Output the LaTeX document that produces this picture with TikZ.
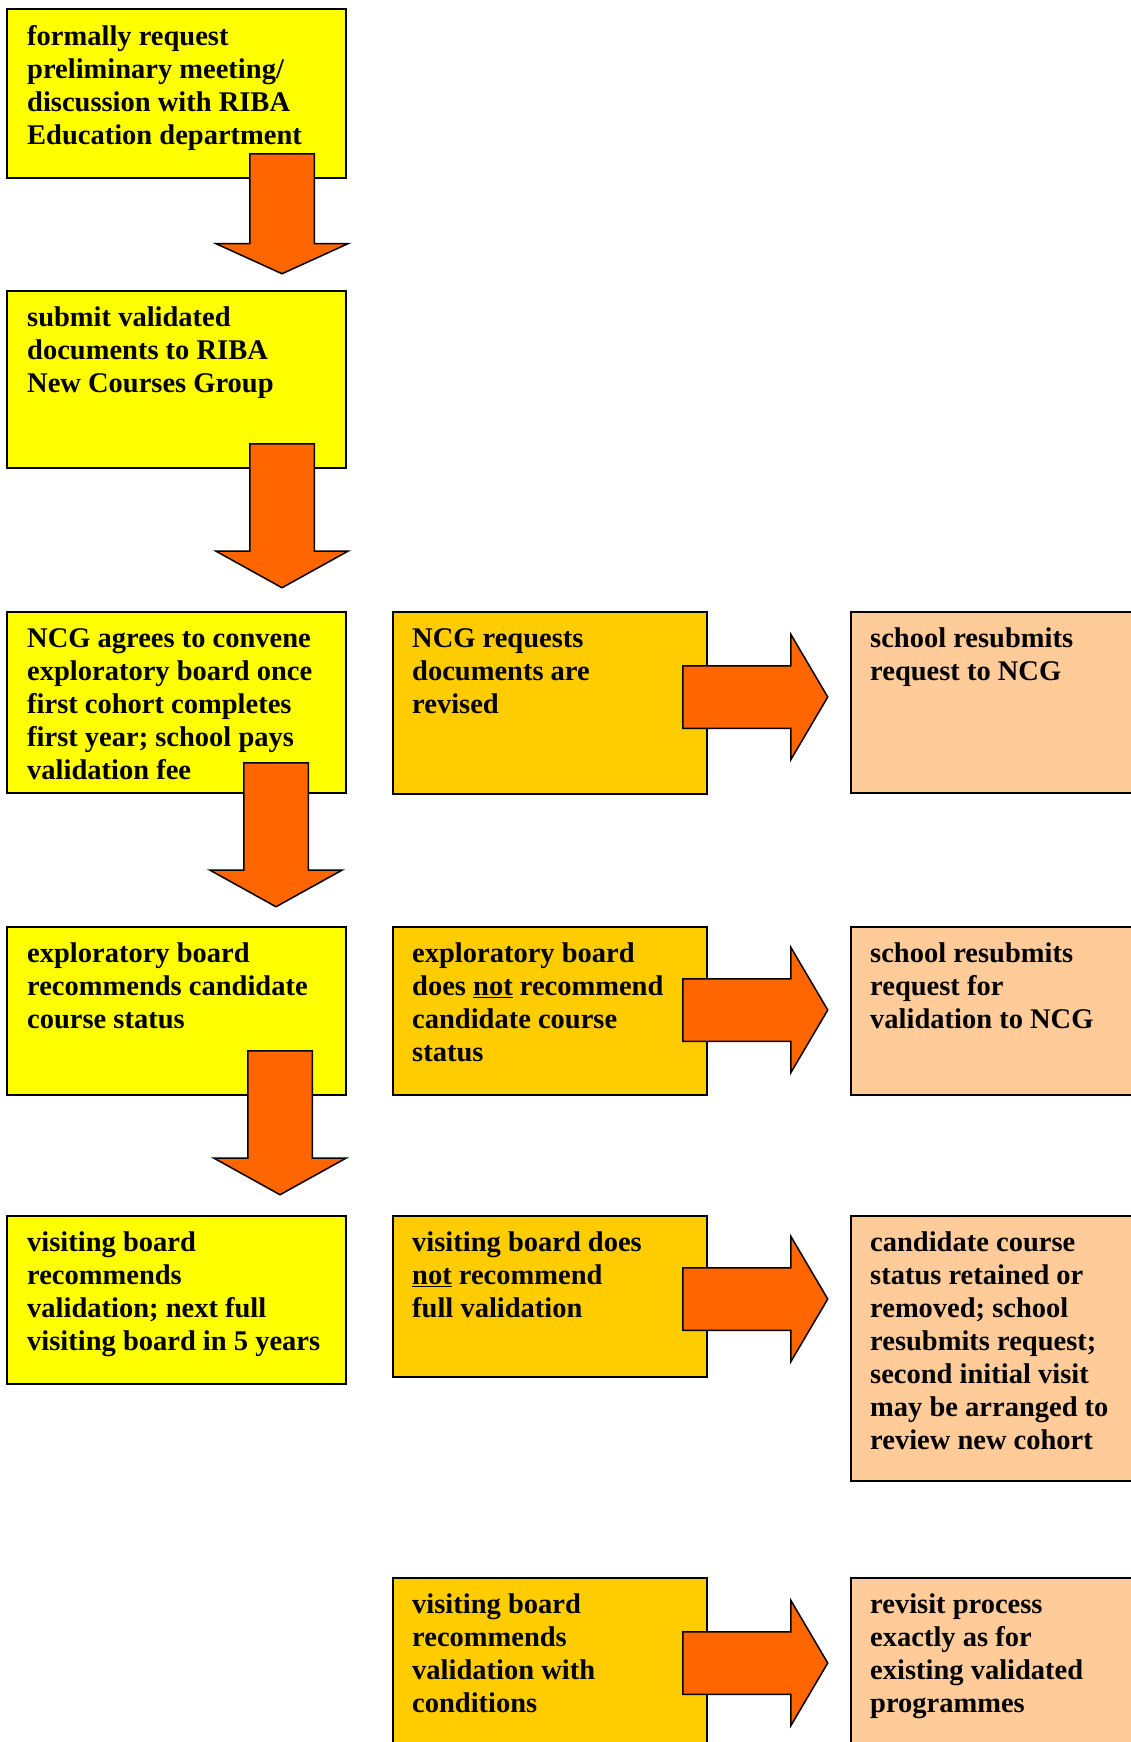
\documentclass[tikz,border=0pt]{standalone}
\usepackage{fontspec}
\setmainfont{Liberation Serif}
\usetikzlibrary{positioning}
\usetikzlibrary{shapes.arrows}
\definecolor{boxyellow}{HTML}{FFFF00}
\definecolor{boxgold}{HTML}{FFCC00}
\definecolor{boxpeach}{HTML}{FFCC99}
\definecolor{arroworange}{HTML}{FF6600}
\tikzset{x=1pt, y=-1pt, % one unit is one pixel of the page, y runs down
  every node/.style={align=left,
    font=\bfseries\fontsize{28.5}{33}\selectfont},
  box/.style={ % the coloured steps
    draw, line width=2pt, inner sep=0pt, anchor=north west},
  leftbox/.style={box, fill=boxyellow, minimum width=339pt},
  midbox/.style={box, fill=boxgold, minimum width=314pt},
  rightbox/.style={box, fill=boxpeach, minimum width=300pt},
  boxtext/.style={anchor=north west, inner sep=0pt,
    execute at begin node={\strut}},
  downarrow/.style={ % the big block arrows
    single arrow, draw, fill=arroworange, line width=1.5pt,
    inner xsep=0pt, inner ysep=31.5pt, minimum width=131pt, minimum height=144pt,
    single arrow head extend=34pt, single arrow tip angle=122,
    rotate=-90, anchor=tail},
  rightarrow/.style={
    single arrow, draw, fill=arroworange, line width=1.5pt,
    inner xsep=0pt, inner ysep=30.5pt, minimum width=124pt, minimum height=145pt,
    single arrow head extend=31.5pt, single arrow tip angle=119,
    anchor=tail}}
\begin{document}
\begin{tikzpicture}
  \useasboundingbox (0,0) rectangle (1130,1742);

  % left column
  \node [leftbox, minimum height=169pt] (req) at (6,8) {};
  \node [leftbox, minimum height=177pt] (submit) at (6,290) {};
  \node [leftbox, minimum height=181pt] (agree) at (6,611) {};
  \node [leftbox, minimum height=168pt] (recommend) at (6,926) {};
  \node [leftbox, minimum height=168pt] (validate) at (6,1215) {};

  % middle column
  \node [midbox, minimum height=182pt, right=45pt of agree.north east, anchor=north west] (revise) {};
  \node [midbox, minimum height=168pt, right=45pt of recommend.north east, anchor=north west] (notrec) {};
  \node [midbox, minimum height=161pt, right=45pt of validate.north east, anchor=north west] (notfull) {};
  \node [midbox, minimum height=200pt] (withcond) at (392,1577) {};

  % right column
  \node [rightbox, minimum height=181pt, right=142pt of revise.north east, anchor=north west] (resubmit) {};
  \node [rightbox, minimum height=168pt, right=142pt of notrec.north east, anchor=north west] (resubval) {};
  \node [rightbox, minimum height=265pt, right=142pt of notfull.north east, anchor=north west] (retained) {};
  \node [rightbox, minimum height=200pt, right=142pt of withcond.north east, anchor=north west] (revisit) {};

  % texts
  \node [boxtext] (reqtxt) at ([shift={(21,17)}]req.north west) {
    formally request\\ preliminary meeting/\\
    discussion with RIBA\\ Education department};
  \node [boxtext] (submittxt) at ([shift={(21,17)}]submit.north west) {
    submit validated\\ documents to RIBA\\ New Courses Group};
  \node [boxtext] (agreetxt) at ([shift={(21,17)}]agree.north west) {
    NCG agrees to convene\\ exploratory board once\\
    first cohort completes\\ first year; school pays\\ validation fee};
  \node [boxtext] (recommendtxt) at ([shift={(21,17)}]recommend.north west) {
    exploratory board\\ recommends candidate\\ course status};
  \node [boxtext] (validatetxt) at ([shift={(21,17)}]validate.north west) {
    visiting board\\ recommends\\ validation; next full\\
    visiting board in 5 years};

  \node [boxtext] (revisetxt) at ([shift={(20,17)}]revise.north west) {
    NCG requests\\ documents are\\ revised};
  \node [boxtext] (notrectxt) at ([shift={(20,17)}]notrec.north west) {
    exploratory board\\ does \underline{not} recommend\\
    candidate course\\ status};
  \node [boxtext] (notfulltxt) at ([shift={(20,17)}]notfull.north west) {
    visiting board does\\ \underline{not} recommend\\ full validation};
  \node [boxtext] (withcondtxt) at ([shift={(20,17)}]withcond.north west) {
    visiting board\\ recommends\\ validation with\\ conditions};

  \node [boxtext] (resubmittxt) at ([shift={(20,17)}]resubmit.north west) {
    school resubmits\\ request to NCG};
  \node [boxtext] (resubvaltxt) at ([shift={(20,17)}]resubval.north west) {
    school resubmits\\ request for\\ validation to NCG};
  \node [boxtext] (retainedtxt) at ([shift={(20,17)}]retained.north west) {
    candidate course\\ status retained or\\ removed; school\\
    resubmits request;\\ second initial visit\\
    may be arranged to\\ review new cohort};
  \node [boxtext] (revisittxt) at ([shift={(20,17)}]revisit.north west) {
    revisit process\\ exactly as for\\ existing validated\\ programmes};

  % block arrows
  \node [downarrow, minimum height=120pt, single arrow tip angle=131] (reqarrow) at (282,153) {};
  \node [downarrow] (submitarrow) at (282,443) {};
  \node [downarrow] (agreearrow) at (276,762) {};
  \node [downarrow] (recommendarrow) at (280,1050) {};

  \node [rightarrow] (revisearrow) at (682,697) {};
  \node [rightarrow] (notrecarrow) at (682,1010) {};
  \node [rightarrow] (notfullarrow) at (682,1299) {};
  \node [rightarrow] (withcondarrow) at (682,1663) {};

\end{tikzpicture}
\end{document}
